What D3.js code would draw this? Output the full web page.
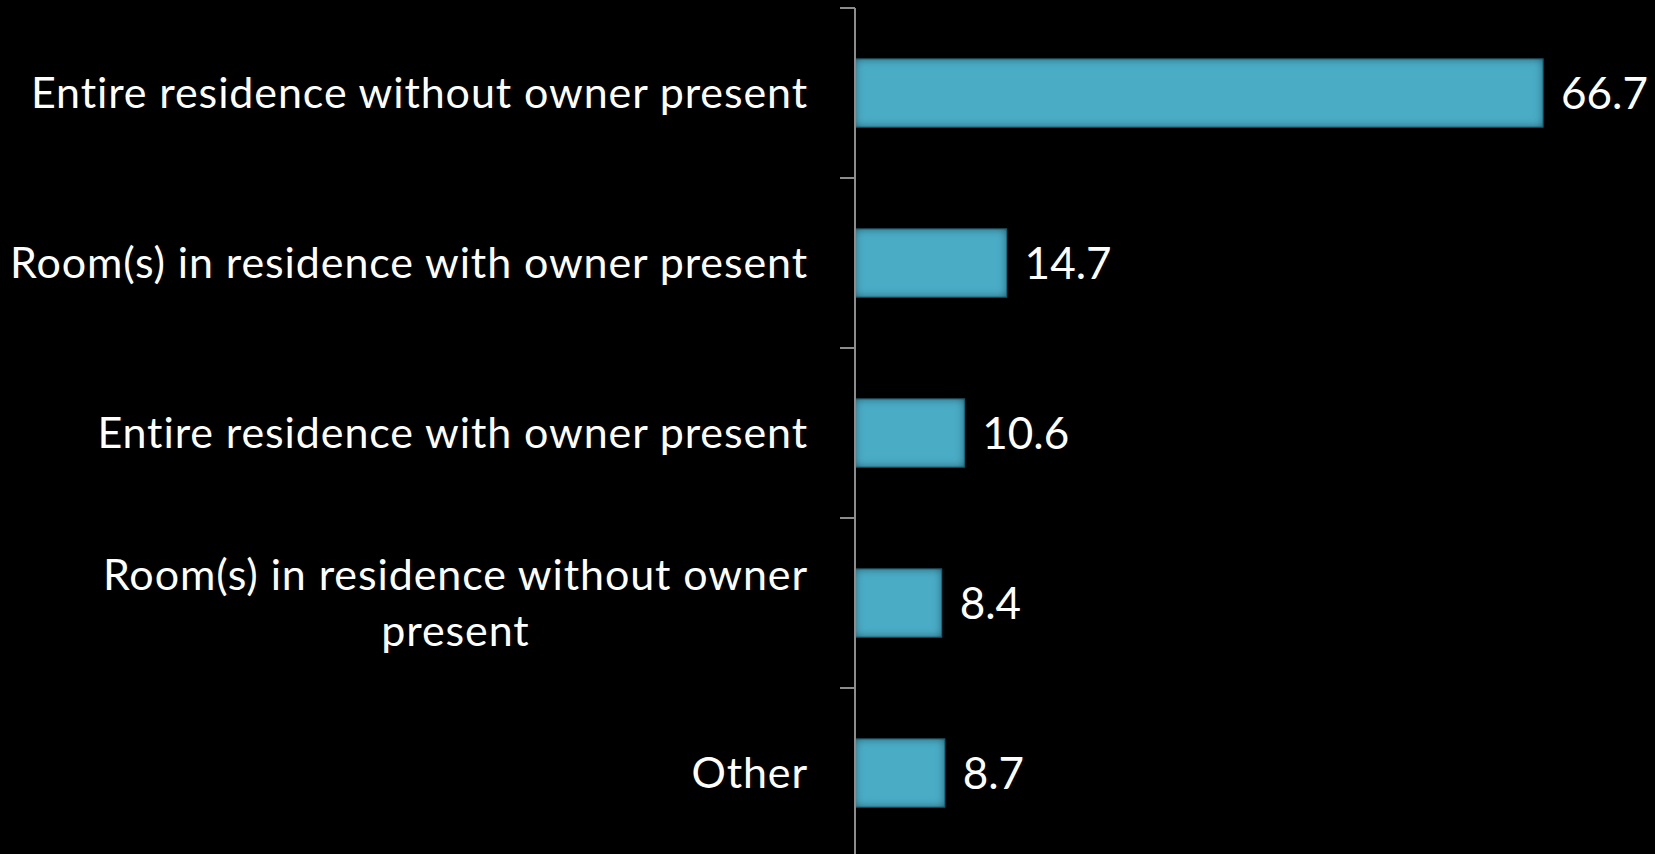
<!DOCTYPE html>
<html>
<head>
<meta charset="utf-8">
<script src="https://cdn.jsdelivr.net/npm/d3@7"></script>
<style>
  html, body { margin: 0; padding: 0; background: #000; overflow: hidden; }
  svg { display: block; }
  text { font-variant-ligatures: none; font-feature-settings: "liga" 0; }
</style>
</head>
<body>
<div id="chart"></div>
<script>
const w = 1655,
  h = 854;

// categories (top to bottom), label lines and values
const categories = [
  "Entire residence without owner present",
  "Room(s) in residence with owner present",
  "Entire residence with owner present",
  "Room(s) in residence without owner present",
  "Other"
];
const labelLines = [
  ["Entire residence without owner present"],
  ["Room(s) in residence with owner present"],
  ["Entire residence with owner present"],
  ["Room(s) in residence without owner", "present"],
  ["Other"]
];
const values = [66.7, 14.7, 10.6, 8.4, 8.7];

const axisX = 855,
  labelRight = 808,
  fontSize = 43;

const svg = d3
  .select("#chart")
  .append("svg")
  .attr("width", w)
  .attr("height", h);

svg.append("rect").attr("width", w).attr("height", h).attr("fill", "#000");

// inner shadow for the bars
const defs = svg.append("defs");
const f = defs
  .append("filter")
  .attr("id", "inner")
  .attr("x", "-10%")
  .attr("y", "-30%")
  .attr("width", "120%")
  .attr("height", "160%");
f.append("feFlood").attr("flood-color", "#0f323b").attr("result", "c");
f.append("feComposite")
  .attr("in", "c")
  .attr("in2", "SourceAlpha")
  .attr("operator", "out")
  .attr("result", "inv");
f.append("feGaussianBlur").attr("in", "inv").attr("stdDeviation", 5).attr("result", "blur");
f.append("feComposite")
  .attr("in", "blur")
  .attr("in2", "SourceAlpha")
  .attr("operator", "in")
  .attr("result", "shadow");
const m = f.append("feMerge");
m.append("feMergeNode").attr("in", "SourceGraphic");
m.append("feMergeNode").attr("in", "shadow");

const y = d3
  .scaleBand()
  .domain(categories)
  .range([8, 858])
  .paddingInner(0.6)
  .paddingOuter(0.3);

const x = d3.scaleLinear().domain([0, 70]).range([axisX, axisX + 722]);

// bars
svg
  .selectAll("rect.bar")
  .data(categories)
  .enter()
  .append("rect")
  .attr("class", "bar")
  .attr("x", x(0))
  .attr("y", (d) => y(d))
  .attr("width", (d, i) => x(values[i]) - x(0))
  .attr("height", y.bandwidth())
  .attr("fill", "#4bacc6")
  .attr("stroke", "#357f92")
  .attr("stroke-width", 1)
  .attr("filter", "url(#inner)");

// axis line with ticks on the band boundaries
const tickYs = d3.range(categories.length + 1).map((i) => y.range()[0] + i * y.step());
svg
  .append("line")
  .attr("x1", axisX)
  .attr("x2", axisX)
  .attr("y1", tickYs[0])
  .attr("y2", h)
  .attr("stroke", "#8c8c8c")
  .attr("stroke-width", 2);
svg
  .selectAll("line.tick")
  .data(tickYs)
  .enter()
  .append("line")
  .attr("class", "tick")
  .attr("x1", axisX - 15)
  .attr("x2", axisX)
  .attr("y1", (d) => d)
  .attr("y2", (d) => d)
  .attr("stroke", "#8c8c8c")
  .attr("stroke-width", 2);

// category labels
const lineH = 56;
categories.forEach((c, i) => {
  const lines = labelLines[i];
  const cy = y(c) + y.bandwidth() / 2;
  const g = svg
    .append("text")
    .attr("fill", "#fff")
    .attr("font-family", "Lato, 'Open Sans', sans-serif")
    .attr("font-size", fontSize)
    .attr("letter-spacing", 0.9)
    .attr("text-anchor", "middle");
  lines.forEach((t, j) => {
    g.append("tspan")
      .attr("y", cy + 15 + (j - (lines.length - 1) / 2) * lineH)
      .text(t);
  });
  // centre the block, right-aligned to labelRight
  const widths = [];
  g.selectAll("tspan").each(function () {
    widths.push(this.getComputedTextLength());
  });
  const bw = d3.max(widths);
  g.selectAll("tspan").attr("x", labelRight - bw / 2);
});

// value labels
svg
  .selectAll("text.val")
  .data(categories)
  .enter()
  .append("text")
  .attr("class", "val")
  .attr("x", (d, i) => x(values[i]) + 18)
  .attr("y", (d) => y(d) + y.bandwidth() / 2 + 16)
  .attr("fill", "#fff")
  .attr("font-family", "Lato, 'Open Sans', sans-serif")
  .attr("font-size", fontSize + 1)
  .text((d, i) => values[i].toFixed(1));
</script>
</body>
</html>
